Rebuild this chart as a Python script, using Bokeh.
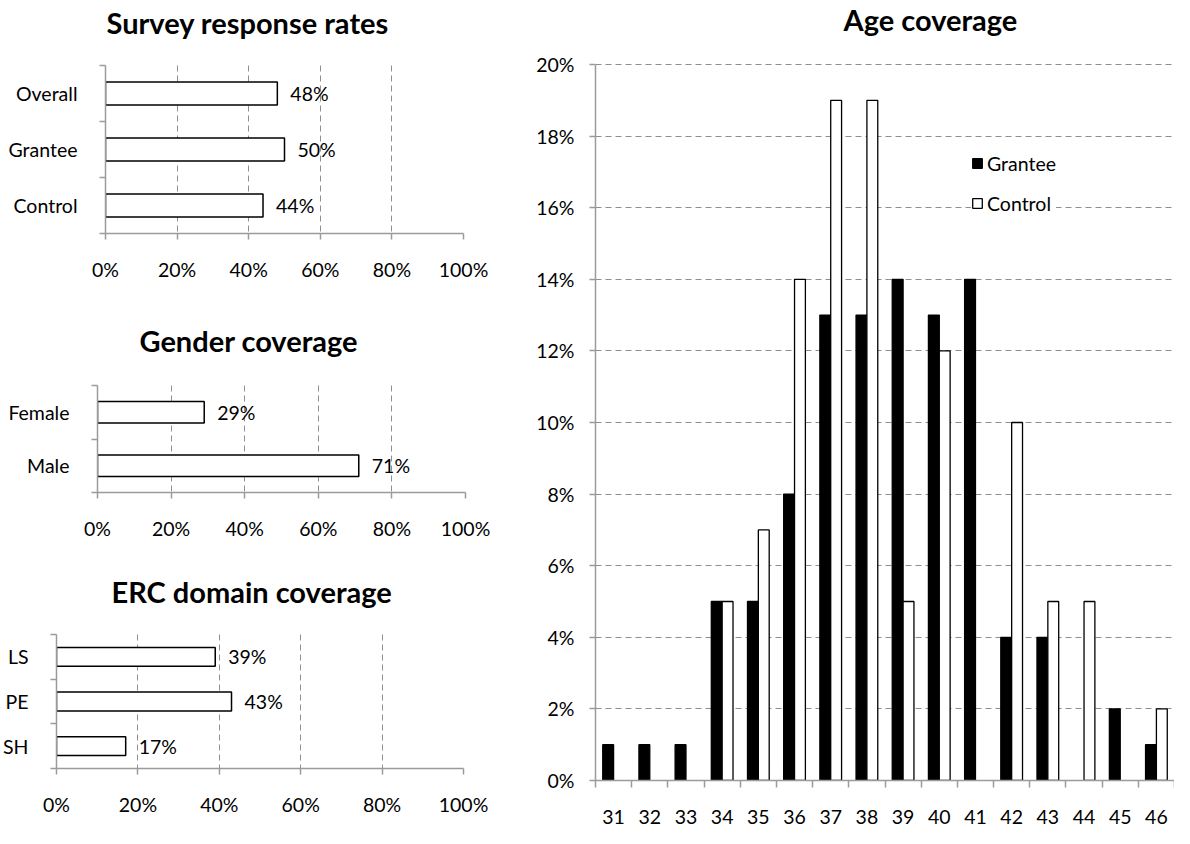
import numpy as np
from bokeh.plotting import figure
from bokeh.models import (Range1d, FixedTicker, NumeralTickFormatter, Legend, LegendItem,
                          ColumnDataSource, Label)
from bokeh.transform import dodge
from bokeh.layouts import row, column
from bokeh.embed import file_html
from bokeh.resources import INLINE
from bokeh.core.properties import value

FONT = "Lato"
FS = "19.5px"
TITLE_FS = "29px"
AXIS_GRAY = "#9b9b9b"
GRID_GRAY = "#8f8f8f"

# ---------------- data ----------------
survey_cats = ["Overall", "Grantee", "Control"]
survey_vals = [0.48, 0.50, 0.44]

gender_cats = ["Female", "Male"]
gender_vals = [0.29, 0.71]

erc_cats = ["LS", "PE", "SH"]
erc_vals = [0.39, 0.43, 0.17]

pct_ticks = [0.0, 0.2, 0.4, 0.6, 0.8, 1.0]

ages = [31, 32, 33, 34, 35, 36, 37, 38, 39, 40, 41, 42, 43, 44, 45, 46]
grantee = [0.01, 0.01, 0.01, 0.05, 0.05, 0.08, 0.13, 0.13, 0.14, 0.13, 0.14, 0.04, 0.04, 0.00, 0.02, 0.01]
control = [0.00, 0.00, 0.00, 0.05, 0.07, 0.14, 0.19, 0.19, 0.05, 0.12, 0.00, 0.10, 0.05, 0.05, 0.00, 0.02]
age_yticks = [0.00, 0.02, 0.04, 0.06, 0.08, 0.10, 0.12, 0.14, 0.16, 0.18, 0.20]
age_ymax = 0.20


def add_title(p, text, sx, sy):
    # chart heading placed in screen pixels relative to the plot frame
    p.add_layout(Label(x=sx, y=sy, x_units="screen", y_units="screen", text=text,
                       text_font=FONT, text_font_size=TITLE_FS, text_font_style="bold",
                       text_color="black", text_align="left",
                       text_baseline="alphabetic"))


def hbar_chart(title, cats, vals, width, height, left, right, top_gap, bottom, bar_h,
               title_x, title_y):
    n = len(cats)
    pos = list(range(n))
    cat_px = (height - bottom - top_gap) / n
    # the frame reaches the top of the canvas; the empty band above the bars holds the heading
    y_top = -0.5 - top_gap / cat_px
    p = figure(width=width, height=height, output_backend="svg", toolbar_location=None,
               x_range=Range1d(0, 1), y_range=Range1d(n - 0.5, y_top),
               min_border_left=left, min_border_right=right,
               min_border_top=0, min_border_bottom=bottom)
    p.outline_line_color = None
    p.hbar(y=pos, left=0, right=vals, height=bar_h, fill_color="white",
           line_color="black", line_width=1.5)
    labels = [f"{round(v * 100)}%" for v in vals]
    p.text(x=vals, y=pos, text=labels, x_offset=13, text_baseline="middle",
           text_align="left", text_font=value(FONT), text_font_size=FS,
           text_color="black")

    xa = p.xaxis[0]
    xa.ticker = FixedTicker(ticks=pct_ticks)
    xa.formatter = NumeralTickFormatter(format="0%")
    xa.major_tick_out = 6
    xa.major_tick_in = 0
    xa.minor_tick_out = 0
    xa.minor_tick_in = 0
    xa.axis_line_color = AXIS_GRAY
    xa.axis_line_width = 1.5
    xa.major_tick_line_color = AXIS_GRAY
    xa.major_tick_line_width = 1.5
    xa.major_label_standoff = 18
    xa.major_label_text_font = FONT
    xa.major_label_text_font_size = FS
    xa.major_label_text_color = "black"

    ya = p.yaxis[0]
    ya.bounds = (-0.5, n - 0.5)
    ya.ticker = FixedTicker(ticks=pos, minor_ticks=[i - 0.5 for i in range(n + 1)])
    ya.major_label_overrides = {i: c for i, c in enumerate(cats)}
    ya.major_tick_out = 0
    ya.major_tick_in = 0
    ya.minor_tick_out = 6
    ya.minor_tick_in = 0
    ya.minor_tick_line_color = AXIS_GRAY
    ya.minor_tick_line_width = 1.5
    ya.axis_line_color = AXIS_GRAY
    ya.axis_line_width = 1.5
    ya.major_label_standoff = 22
    ya.major_label_text_font = FONT
    ya.major_label_text_font_size = FS
    ya.major_label_text_color = "black"

    p.xgrid.ticker = FixedTicker(ticks=pct_ticks)
    p.xgrid.cross_bounds = (-0.5, n - 0.5)
    p.xgrid.grid_line_color = GRID_GRAY
    p.xgrid.grid_line_dash = "6 4"
    p.xgrid.grid_line_width = 1
    p.ygrid.grid_line_color = None

    add_title(p, title, title_x, title_y)
    return p


LEFT_W = 500
p1 = hbar_chart("Survey response rates", survey_cats, survey_vals, LEFT_W, 300,
                105, 37, 65, 67, 0.41, 1, 211)
p2 = hbar_chart("Gender coverage", gender_cats, gender_vals, LEFT_W, 256,
                97, 35, 85, 64, 0.40, 42, 152)
p3 = hbar_chart("ERC domain coverage", erc_cats, erc_vals, LEFT_W, 272,
                55, 37, 78, 60, 0.42, 55, 177)

# ---------------- age chart ----------------
g_idx = [i for i, v in enumerate(grantee) if v > 0]
c_idx = [i for i, v in enumerate(control) if v > 0]
src_g = ColumnDataSource(dict(age=[ages[i] for i in g_idx], val=[grantee[i] for i in g_idx]))
src_c = ColumnDataSource(dict(age=[ages[i] for i in c_idx], val=[control[i] for i in c_idx]))

P4_H, P4_BOTTOM, P4_TOPGAP = 828, 48, 64
y_end = age_ymax + P4_TOPGAP / (P4_H - P4_BOTTOM - P4_TOPGAP) * age_ymax

p4 = figure(width=674, height=P4_H, output_backend="svg", toolbar_location=None,
            x_range=Range1d(ages[0] - 0.5, ages[-1] + 0.5), y_range=Range1d(0, y_end),
            min_border_left=95, min_border_right=0, min_border_top=0,
            min_border_bottom=P4_BOTTOM)
p4.outline_line_color = None
rg = p4.vbar(x=dodge("age", -0.15, range=p4.x_range), top="val", bottom=0, width=0.3,
             source=src_g, fill_color="black", line_color="black", line_width=1.3)
rc = p4.vbar(x=dodge("age", 0.15, range=p4.x_range), top="val", bottom=0, width=0.3,
             source=src_c, fill_color="white", line_color="black", line_width=1.3)

xa = p4.xaxis[0]
xa.ticker = FixedTicker(ticks=ages, minor_ticks=[a - 0.5 for a in ages] + [ages[-1] + 0.5])
xa.major_tick_out = 0
xa.major_tick_in = 0
xa.minor_tick_out = 7
xa.minor_tick_in = 0
xa.minor_tick_line_color = AXIS_GRAY
xa.minor_tick_line_width = 1.5
xa.axis_line_color = AXIS_GRAY
xa.axis_line_width = 1.5
xa.major_label_standoff = 22
xa.major_label_text_font = FONT
xa.major_label_text_font_size = FS
xa.major_label_text_color = "black"

ya = p4.yaxis[0]
ya.bounds = (0, age_ymax)
ya.ticker = FixedTicker(ticks=age_yticks)
ya.formatter = NumeralTickFormatter(format="0%")
ya.major_tick_out = 6
ya.major_tick_in = 0
ya.minor_tick_out = 0
ya.minor_tick_in = 0
ya.major_tick_line_color = AXIS_GRAY
ya.major_tick_line_width = 1.5
ya.axis_line_color = AXIS_GRAY
ya.axis_line_width = 1.5
ya.major_label_standoff = 15
ya.major_label_text_font = FONT
ya.major_label_text_font_size = FS
ya.major_label_text_color = "black"

p4.ygrid.ticker = FixedTicker(ticks=age_yticks[1:])
p4.ygrid.grid_line_color = GRID_GRAY
p4.ygrid.grid_line_dash = "6 4"
p4.xgrid.grid_line_color = None

legend = Legend(items=[LegendItem(label="Grantee", renderers=[rg]),
                       LegendItem(label="Control", renderers=[rc])],
                location=(376, 565), orientation="vertical",
                background_fill_color="white", background_fill_alpha=1.0,
                border_line_color=None, glyph_width=12, glyph_height=12,
                label_standoff=4, spacing=16, padding=10, margin=0,
                label_height=24, label_text_font=FONT, label_text_font_size=FS,
                label_text_color="black")
p4.add_layout(legend)

add_title(p4, "Age coverage", 248, 761)

layout = row(column(row(p1), row(p2), row(p3)), p4)

with open("out.html", "w") as f:
    f.write(file_html(layout, INLINE))
